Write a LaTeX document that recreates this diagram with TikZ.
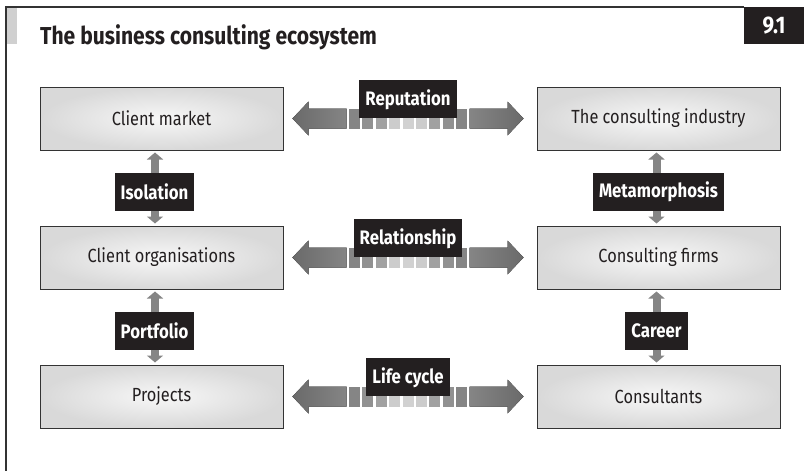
\documentclass[tikz,border=0pt]{standalone}
\usepackage{fontspec}
\setmainfont{Fira Sans}[FakeStretch=0.86]
\usetikzlibrary{positioning,calc,arrows.meta}
\definecolor{framegray}{HTML}{333333}
\definecolor{barlight}{HTML}{D0D0D0}
\definecolor{arrowdark}{HTML}{6A6A6A}
\definecolor{arrowmid}{HTML}{858585}
\definecolor{inkblack}{HTML}{231F20}
\begin{document}
\begin{tikzpicture}[x=1pt,y=-1pt,
    eco/.style={draw=framegray,line width=1pt,minimum width=243pt,minimum height=63pt,
        inner color=white!97!black,outer color=white!85!black,text=inkblack,
        font=\fontsize{19}{22}\selectfont},
    tag/.style={fill=inkblack,text=white,font=\bfseries\fontsize{19.5}{22}\selectfont,
        minimum height=38pt,inner xsep=6pt},
    vbar/.style={draw=arrowmid,line width=8pt,
        {Triangle[width=16pt,length=7pt]}-{Triangle[width=16pt,length=7pt]},
        shorten <=2pt,shorten >=2pt},
    hbar/.pic={
        \fill[left color=arrowdark,right color=arrowmid] (-115.5,0) -- (-99.5,-17) -- (-99.5,-10)
            -- (-61.5,-10) -- (-61.5,10) -- (-99.5,10) -- (-99.5,17) -- cycle;
        \fill[left color=arrowmid,right color=arrowdark] (115.5,0) -- (99.5,-17) -- (99.5,-10)
            -- (61.5,-10) -- (61.5,10) -- (99.5,10) -- (99.5,17) -- cycle;
        \foreach \i/\lv in {0/52,1/57,2/63,3/80,4/82,5/80,6/63,7/57,8/52}
            \fill[white!\lv!black] ({-59.1+13.4*\i},-10) rectangle ++(11,20);
    }]
    \useasboundingbox[fill=white] (0,0) rectangle (804,471);
    \draw[framegray,line width=1.2pt] (6,471) -- (6,7) -- (744,7);
    \fill[barlight] (7,8) rectangle (17,44);
    \node[anchor=base west,inner sep=0,text=inkblack,font=\bfseries\fontsize{24.5}{28}\selectfont] (ttl) at (40,45) {The business consulting ecosystem};
    \node[fill=inkblack,text=white,inner sep=0,minimum width=60pt,minimum height=37pt,font=\bfseries\fontsize{24}{26}\selectfont] (num) at (774,25.5) {9.1};

    \node[eco] (cm) at (161.5,118.5) {Client market};
    \node[eco,below=75pt of cm] (co) {Client organisations};
    \node[eco,below=75pt of co] (pj) {Projects};
    \node[eco,right=253pt of cm] (ci) {The consulting industry};
    \node[eco,right=253pt of co] (cf) {Consulting firms};
    \node[eco,right=253pt of pj] (cs) {Consultants};

    \coordinate (r1) at ($(cm.east)!0.5!(ci.west)+(-2,0)$);
    \coordinate (r2) at ($(co.east)!0.5!(cf.west)+(-2,0)$);
    \coordinate (r3) at ($(pj.east)!0.5!(cs.west)+(-2,0)$);
    \pic at (r1) {hbar};
    \pic at (r2) {hbar};
    \pic at (r3) {hbar};
    \node[tag,above=0pt of r1] (rep) {Reputation};
    \node[tag,above=0pt of r2] (rel) {Relationship};
    \node[tag,above=0pt of r3] (lif) {Life cycle};

    \draw[vbar] ($(cm.south)+(-6.5,0)$) -- ($(co.north)+(-6.5,0)$);
    \draw[vbar] ($(co.south)+(-6.5,0)$) -- ($(pj.north)+(-6.5,0)$);
    \draw[vbar] ($(ci.south)+(-2,0)$) -- ($(cf.north)+(-2,0)$);
    \draw[vbar] ($(cf.south)+(-2,0)$) -- ($(cs.north)+(-2,0)$);
    \node[tag] (iso) at ($(cm.south)!0.5!(co.north)+(-7,3.5)$) {Isolation};
    \node[tag] (por) at ($(co.south)!0.5!(pj.north)+(-7,3.5)$) {Portfolio};
    \node[tag] (met) at ($(ci.south)!0.5!(cf.north)+(0,3.5)$) {Metamorphosis};
    \node[tag] (car) at ($(cf.south)!0.5!(cs.north)+(-2,3.5)$) {Career};
\end{tikzpicture}
\end{document}
